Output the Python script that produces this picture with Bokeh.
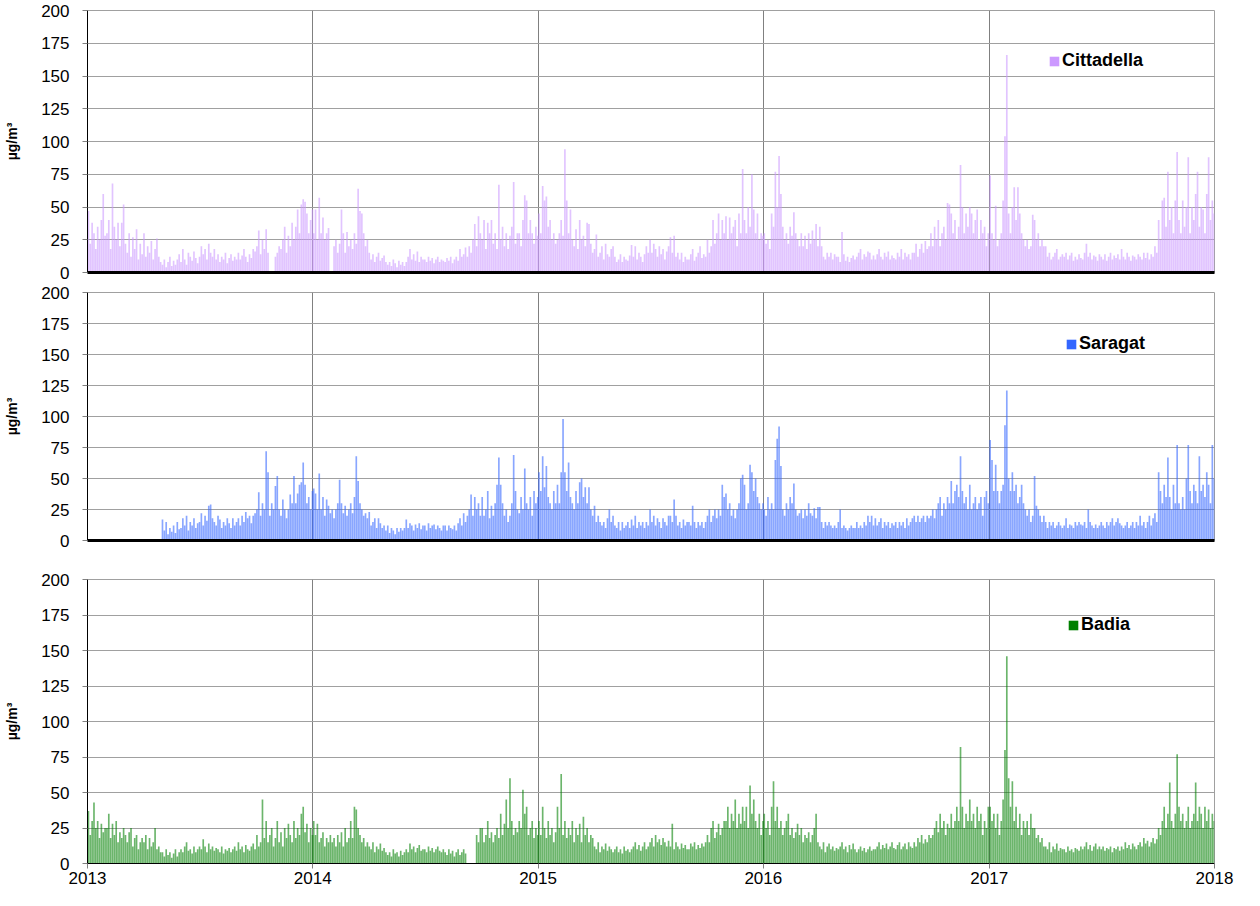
import numpy as np
from bokeh.plotting import figure
from bokeh.models import Range1d, FixedTicker, Legend, LegendItem
from bokeh.layouts import column
from bokeh.embed import file_html
from bokeh.resources import INLINE

# ---------------- data ----------------
stations = ["Cittadella", "Saragat", "Badia"]
colors = ["#CC99FF", "#3366FF", "#008000"]
year_ticks = ["2013", "2014", "2015", "2016", "2017", "2018"]
y_ticks = [0, 25, 50, 75, 100, 125, 150, 175, 200]
unit_label = "µg/m³"

# 3-day values, month by month (Jul and Dec have 11 values)
cittadella_2013 = [
    47, 22, 38, 30, 18, 35, 25, 40, 60, 28,
    30, 40, 18, 68, 35, 25, 38, 20, 38, 52,
    22, 15, 30, 12, 27, 18, 33, 10, 22, 14,
    30, 12, 20, 15, 24, 10, 18, 26, 12, 8,
    6, 10, 4, 8, 12, 5, 9, 6, 10, 14,
    8, 18, 10, 6, 15, 12, 9, 16, 11, 7,
    12, 20, 14, 18, 10, 22, 15, 12, 18, 10, 14,
    8, 12, 10, 15, 7, 11, 14, 9, 12, 10,
    15, 10, 13, 18, 12, 8, 14, 11, 18, 16,
    20, 32, 14, 25, 18, 33, 15, 0, 0, 0,
    12, 15, 20, 18, 25, 35, 15, 28, 20, 38,
    25, 35, 48, 30, 52, 56, 54, 45, 30, 40, 48]
cittadella_2014 = [
    30, 48, 25, 57, 30, 42, 25, 30, 34, 0,
    0, 20, 25, 15, 22, 48, 30, 15, 31, 20,
    25, 18, 30, 22, 64, 47, 45, 30, 20, 25,
    15, 10, 14, 8, 12, 15, 9, 11, 13, 8,
    6, 8, 5, 10, 7, 4, 9, 6, 8, 5,
    8, 12, 18, 10, 14, 9, 16, 8, 12, 10,
    10, 8, 12, 9, 11, 7, 10, 12, 8, 10, 9,
    8, 11, 9, 12, 7, 10, 12, 9, 18, 12,
    14, 19, 12, 20, 15, 25, 37, 20, 43, 30,
    25, 40, 18, 38, 30, 40, 22, 30, 18, 67,
    25, 35, 20, 30, 18, 28, 35, 69, 22, 30,
    30, 20, 40, 59, 55, 30, 40, 30, 22, 35, 28]
cittadella_2015 = [
    45, 30, 66, 55, 58, 35, 40, 25, 30, 22,
    25, 30, 40, 28, 94, 55, 30, 48, 25, 20,
    33, 18, 40, 25, 28, 20, 38, 37, 22, 15,
    18, 29, 12, 15, 20, 10, 22, 14, 12, 18,
    20, 12, 8, 10, 14, 8, 12, 10, 9, 13,
    21, 12, 20, 10, 15, 12, 8, 14, 20, 15,
    25, 15, 22, 18, 12, 20, 14, 18, 10, 16, 20,
    27, 15, 28, 12, 15, 10, 15, 8, 12, 10,
    10, 14, 18, 9, 12, 15, 20, 11, 14, 12,
    25, 15, 20, 40, 22, 30, 45, 25, 40, 30,
    43, 25, 42, 30, 35, 40, 20, 45, 30, 79,
    40, 30, 50, 35, 75, 48, 30, 45, 25, 30, 28]
cittadella_2016 = [
    30, 22, 25, 18, 45, 35, 77, 50, 89, 60,
    35, 25, 30, 22, 35, 28, 46, 30, 25, 20,
    30, 20, 28, 18, 30, 22, 32, 25, 37, 20,
    35, 20, 12, 10, 15, 12, 15, 10, 14, 12,
    12, 8, 31, 14, 9, 12, 8, 11, 13, 10,
    12, 15, 18, 10, 14, 12, 16, 15, 10, 13,
    10, 14, 18, 12, 10, 15, 12, 16, 10, 13, 11,
    10, 15, 12, 18, 10, 15, 12, 14, 10, 15,
    15, 22, 12, 18, 22, 15, 24, 18, 20, 30,
    20, 35, 25, 40, 20, 30, 35, 25, 53, 52,
    45, 30, 40, 25, 35, 82, 50, 30, 45, 35,
    50, 45, 30, 40, 48, 25, 40, 30, 35, 20, 30]
cittadella_2017 = [
    74, 30, 25, 51, 20, 25, 30, 55, 104, 166,
    45, 30, 50, 65, 40, 65, 45, 30, 25, 20,
    25, 18, 20, 44, 40, 25, 30, 20, 25, 20,
    20, 12, 15, 10, 12, 15, 18, 10, 12, 14,
    12, 15, 10, 13, 15, 9, 12, 10, 14, 11,
    10, 15, 22, 12, 15, 10, 13, 12, 9, 14,
    12, 10, 14, 9, 12, 15, 10, 13, 11, 14, 10,
    18, 12, 10, 15, 12, 9, 13, 12, 10, 14,
    12, 10, 15, 11, 15, 10, 14, 12, 20, 15,
    40, 25, 55, 57, 35, 77, 40, 50, 30, 55,
    92, 40, 30, 55, 35, 50, 88, 30, 50, 40,
    60, 77, 35, 50, 48, 30, 60, 88, 40, 55, 45]

saragat_2013 = [
    0, 0, 0, 0, 0, 0, 0, 0, 0, 0,
    0, 0, 0, 0, 0, 0, 0, 0, 0, 0,
    0, 0, 0, 0, 0, 0, 0, 0, 0, 0,
    0, 0, 0, 0, 0, 0, 0, 0, 0, 0,
    17, 8, 15, 5, 10, 7, 12, 6, 15, 9,
    10, 18, 12, 20, 8, 15, 12, 18, 10, 14,
    15, 22, 12, 20, 16, 28, 29, 18, 15, 12, 20,
    17, 10, 15, 12, 18, 14, 10, 18, 12, 15,
    18, 12, 20, 15, 23, 18, 20, 14, 20, 22,
    25, 39, 20, 30, 25, 72, 55, 20, 30, 25,
    44, 52, 25, 20, 33, 25, 18, 25, 37, 30,
    52, 30, 38, 45, 47, 63, 45, 30, 35, 25, 40]
saragat_2014 = [
    42, 38, 25, 54, 25, 35, 20, 33, 28, 22,
    25, 18, 25, 30, 49, 30, 22, 28, 20, 25,
    30, 22, 35, 68, 48, 30, 25, 20, 22, 18,
    23, 12, 15, 18, 10, 18, 14, 10, 12, 8,
    12, 6, 10, 8, 5, 10, 7, 10, 8, 10,
    17, 10, 14, 12, 8, 13, 10, 14, 9, 12,
    12, 8, 14, 10, 12, 13, 9, 12, 10, 8, 12,
    12, 8, 12, 10, 9, 12, 8, 14, 18, 12,
    22, 15, 20, 25, 37, 20, 35, 25, 30, 20,
    35, 20, 25, 40, 18, 28, 20, 30, 45, 67,
    45, 30, 20, 25, 15, 20, 30, 69, 40, 25,
    22, 35, 25, 58, 30, 25, 35, 20, 40, 30, 35]
saragat_2015 = [
    55, 40, 68, 43, 60, 35, 30, 25, 40, 30,
    45, 30, 55, 98, 55, 40, 63, 35, 30, 25,
    40, 30, 47, 50, 35, 43, 30, 43, 25, 20,
    28, 15, 20, 15, 12, 15, 10, 18, 25, 15,
    20, 12, 10, 15, 8, 15, 10, 12, 15, 10,
    17, 12, 20, 10, 15, 12, 15, 10, 15, 12,
    25, 15, 20, 12, 18, 15, 10, 18, 15, 12, 20,
    20, 15, 33, 20, 12, 15, 10, 17, 12, 15,
    15, 12, 28, 15, 10, 15, 12, 15, 10, 15,
    20, 25, 15, 20, 25, 18, 25, 20, 45, 35,
    38, 25, 30, 20, 25, 18, 25, 30, 50, 53,
    45, 25, 30, 61, 55, 40, 50, 35, 30, 25, 30]
saragat_2016 = [
    25, 20, 35, 25, 30, 25, 65, 82, 92, 60,
    25, 20, 30, 25, 35, 30, 46, 25, 20, 22,
    25, 18, 25, 20, 30, 22, 20, 26, 18, 27,
    27, 15, 10, 15, 12, 15, 12, 10, 12, 10,
    15, 25, 10, 12, 10, 8, 10, 12, 10, 10,
    15, 10, 12, 10, 15, 12, 20, 15, 20, 12,
    18, 12, 15, 18, 10, 15, 12, 15, 10, 14, 12,
    15, 10, 15, 12, 15, 10, 18, 12, 15, 18,
    20, 15, 20, 15, 18, 20, 15, 20, 18, 20,
    25, 18, 25, 30, 35, 20, 30, 25, 35, 30,
    48, 30, 40, 45, 35, 68, 40, 30, 35, 25,
    45, 25, 30, 35, 25, 30, 35, 20, 35, 40, 30]
saragat_2017 = [
    81, 65, 40, 61, 40, 30, 40, 45, 93, 121,
    50, 40, 55, 40, 45, 30, 35, 45, 30, 25,
    20, 25, 15, 20, 52, 28, 25, 20, 15, 20,
    15, 10, 15, 12, 15, 10, 12, 15, 12, 10,
    12, 18, 10, 13, 12, 10, 15, 12, 15, 13,
    12, 15, 10, 25, 15, 12, 10, 13, 10, 12,
    15, 12, 10, 15, 12, 15, 18, 12, 15, 18, 14,
    12, 10, 12, 15, 10, 12, 15, 10, 15, 12,
    20, 12, 15, 10, 15, 20, 12, 18, 22, 15,
    55, 40, 30, 45, 35, 67, 35, 25, 45, 30,
    77, 30, 25, 35, 25, 50, 77, 40, 30, 45,
    40, 30, 68, 40, 45, 35, 55, 45, 30, 77, 50]

badia_2013 = [
    37, 20, 30, 43, 25, 30, 18, 28, 22, 25,
    25, 35, 18, 28, 20, 30, 15, 22, 18, 25,
    20, 15, 22, 25, 12, 18, 20, 10, 15, 18,
    15, 20, 10, 18, 12, 15, 25, 10, 12, 8,
    8, 5, 10, 6, 8, 4, 7, 10, 5, 8,
    10, 8, 12, 15, 9, 10, 7, 12, 8, 10,
    12, 10, 17, 12, 8, 14, 10, 12, 9, 11, 10,
    8, 12, 7, 10, 9, 11, 8, 10, 12, 9,
    15, 10, 12, 8, 13, 10, 9, 12, 14, 10,
    20, 12, 15, 45, 18, 30, 15, 20, 25, 12,
    18, 30, 15, 22, 12, 25, 18, 28, 20, 15,
    30, 18, 25, 20, 35, 40, 22, 28, 15, 25, 20]
badia_2014 = [
    30, 20, 28, 15, 18, 22, 12, 18, 15, 20,
    15, 18, 12, 20, 15, 22, 12, 25, 15, 18,
    30, 18, 40, 38, 25, 20, 15, 18, 12, 15,
    12, 10, 15, 8, 12, 10, 14, 9, 11, 8,
    6, 8, 5, 10, 7, 8, 5, 9, 6, 8,
    10, 8, 14, 10, 12, 8, 11, 13, 9, 10,
    10, 8, 12, 9, 11, 8, 10, 12, 9, 8, 10,
    8, 6, 10, 7, 9, 5, 8, 10, 6, 8,
    10, 7, 0, 0, 0, 0, 0, 20, 15, 25,
    25, 15, 20, 30, 18, 22, 15, 20, 25, 18,
    35, 20, 28, 45, 25, 60, 30, 20, 25, 22,
    30, 25, 52, 35, 40, 20, 25, 30, 18, 25, 20]
badia_2015 = [
    30, 20, 40, 25, 18, 30, 20, 25, 15, 22,
    40, 25, 63, 20, 30, 18, 25, 20, 30, 15,
    25, 20, 28, 15, 33, 20, 25, 15, 20, 18,
    12, 10, 15, 8, 12, 10, 14, 9, 12, 10,
    8, 10, 12, 8, 10, 7, 12, 9, 10, 8,
    10, 12, 15, 10, 13, 9, 12, 15, 10, 12,
    15, 18, 12, 20, 15, 17, 13, 18, 15, 12, 16,
    12, 28, 10, 15, 12, 10, 14, 11, 13, 10,
    10, 14, 12, 15, 10, 13, 11, 14, 12, 15,
    20, 15, 25, 30, 18, 22, 28, 20, 25, 30,
    30, 40, 25, 35, 30, 45, 25, 35, 28, 40,
    30, 40, 25, 55, 35, 45, 30, 25, 35, 20, 30]
badia_2016 = [
    35, 25, 30, 20, 40, 58, 30, 40, 25, 30,
    20, 25, 30, 35, 20, 25, 18, 22, 28, 20,
    25, 15, 20, 18, 22, 15, 20, 25, 35, 15,
    12, 10, 15, 8, 12, 14, 10, 12, 9, 11,
    10, 12, 15, 10, 12, 8, 13, 10, 14, 10,
    8, 10, 12, 9, 11, 8, 10, 12, 9, 10,
    10, 12, 15, 10, 13, 11, 14, 10, 12, 15, 11,
    10, 13, 15, 10, 12, 14, 10, 15, 12, 11,
    15, 12, 18, 15, 20, 14, 17, 15, 20, 18,
    20, 25, 30, 22, 35, 25, 30, 20, 28, 25,
    35, 25, 30, 40, 30, 82, 40, 25, 35, 30,
    45, 30, 35, 25, 40, 30, 35, 20, 30, 25, 40]
badia_2017 = [
    40, 30, 35, 25, 35, 20, 30, 45, 80, 146,
    60, 40, 58, 30, 40, 25, 35, 20, 30, 25,
    30, 20, 35, 25, 25, 18, 20, 15, 18, 12,
    12, 10, 15, 8, 12, 10, 14, 9, 11, 10,
    10, 8, 12, 9, 10, 8, 11, 10, 9, 12,
    10, 12, 15, 10, 13, 9, 12, 14, 10, 12,
    10, 12, 9, 11, 10, 12, 8, 11, 10, 12, 9,
    12, 10, 15, 11, 13, 10, 14, 12, 10, 13,
    15, 12, 18, 14, 16, 12, 15, 18, 14, 17,
    25, 20, 30, 40, 25, 35, 57, 30, 25, 35,
    77, 40, 30, 35, 25, 30, 40, 25, 30, 35,
    57, 30, 40, 35, 25, 40, 30, 38, 25, 35, 30]

series = {
    "Cittadella": [cittadella_2013, cittadella_2014, cittadella_2015, cittadella_2016, cittadella_2017],
    "Saragat": [saragat_2013, saragat_2014, saragat_2015, saragat_2016, saragat_2017],
    "Badia": [badia_2013, badia_2014, badia_2015, badia_2016, badia_2017],
}

# ---------------- helpers ----------------
origin = np.datetime64("2013-01-01")
def day_of(y):
    return int((np.datetime64(f"{y}-01-01") - origin).astype(int))

x_ticks = [day_of(int(t)) for t in year_ticks]
overrides = {x: lab for x, lab in zip(x_ticks, year_ticks)}
BUCKET = 3
FONT = "Liberation Sans"
W = 1244

def build(values_by_year):
    xs, ys = [], []
    for yr_lab, vals in zip(year_ticks[:-1], values_by_year):
        d0 = day_of(int(yr_lab))
        for i, v in enumerate(vals):
            xs.append(d0 + BUCKET * i + BUCKET / 2)
            ys.append(v)
    return xs, ys

def panel(name, color, height, left, frame_w, top, frame_h, bottom, show_x, leg_xy):
    p = figure(width=W, height=height,
               x_range=Range1d(x_ticks[0], x_ticks[-1]), y_range=Range1d(0, 200),
               output_backend="svg", toolbar_location=None,
               min_border_left=left, min_border_right=W - left - frame_w,
               min_border_top=top, min_border_bottom=bottom)
    p.background_fill_color = "white"
    p.border_fill_color = "white"
    p.outline_line_color = "#A0A0A0"
    p.outline_line_width = 1

    xs, ys = build(series[name])
    p.vbar(x=xs, top=ys, bottom=0, width=BUCKET * 0.9,
           fill_color=color, fill_alpha=0.58, line_color=None)

    # grids
    p.ygrid.ticker = FixedTicker(ticks=y_ticks)
    p.ygrid.grid_line_color = "#A0A0A0"
    p.xgrid.ticker = FixedTicker(ticks=x_ticks)
    p.xgrid.grid_line_color = "#808080"

    # y axis
    ya = p.yaxis[0]
    ya.ticker = FixedTicker(ticks=y_ticks)
    ya.axis_line_color = "black"
    ya.major_tick_line_color = "#808080"
    ya.major_tick_out = 5
    ya.major_tick_in = 0
    ya.minor_tick_line_color = None
    ya.major_label_standoff = 13
    ya.major_label_text_font = FONT
    ya.major_label_text_font_size = "17px"
    ya.major_label_text_color = "black"
    ya.axis_label = unit_label
    ya.axis_label_text_font = FONT
    ya.axis_label_text_font_style = "bold"
    ya.axis_label_text_font_size = "14px"
    ya.axis_label_text_color = "black"
    ya.axis_label_standoff = 18

    # x axis
    xa = p.xaxis[0]
    xa.minor_tick_line_color = None
    xa.axis_line_color = "black"
    if show_x:
        xa.ticker = FixedTicker(ticks=x_ticks)
        xa.major_label_overrides = overrides
        xa.axis_line_width = 1
        xa.major_tick_line_color = "#808080"
        xa.major_tick_out = 5
        xa.major_tick_in = 0
        xa.major_label_standoff = 3
        xa.major_label_text_font = FONT
        xa.major_label_text_font_size = "17px"
        xa.major_label_text_color = "black"
    else:
        xa.ticker = FixedTicker(ticks=[])
        xa.axis_line_width = 3
        xa.major_tick_line_color = None
        xa.major_tick_out = 0
        xa.major_tick_in = 0
        xa.major_label_standoff = 0

    # legend (solid swatch, as in the original)
    sw = p.vbar(x=[x_ticks[0]], top=[0], bottom=[0], width=0.01,
                fill_color=color, line_color=None)
    leg = Legend(items=[LegendItem(label=name, renderers=[sw])],
                 location=leg_xy, glyph_width=12, glyph_height=12,
                 label_standoff=2, label_text_font=FONT,
                 label_text_font_style="bold", label_text_font_size="18px",
                 label_text_color="black", label_height=20,
                 padding=0, margin=0, spacing=0,
                 border_line_color=None, background_fill_alpha=0)
    p.add_layout(leg)
    return p

p1 = panel("Cittadella", colors[0], 282, 85, 1129, 10, 262, 10, False, (961, 201))
p2 = panel("Saragat", colors[1], 283, 87, 1130, 10, 248, 25, False, (978, 186))
p3 = panel("Badia", colors[2], 325, 87, 1130, 14, 284, 27, True, (980, 228))

layout = column(p1, p2, p3, spacing=0)
open("out.html", "w").write(file_html(layout, INLINE))
